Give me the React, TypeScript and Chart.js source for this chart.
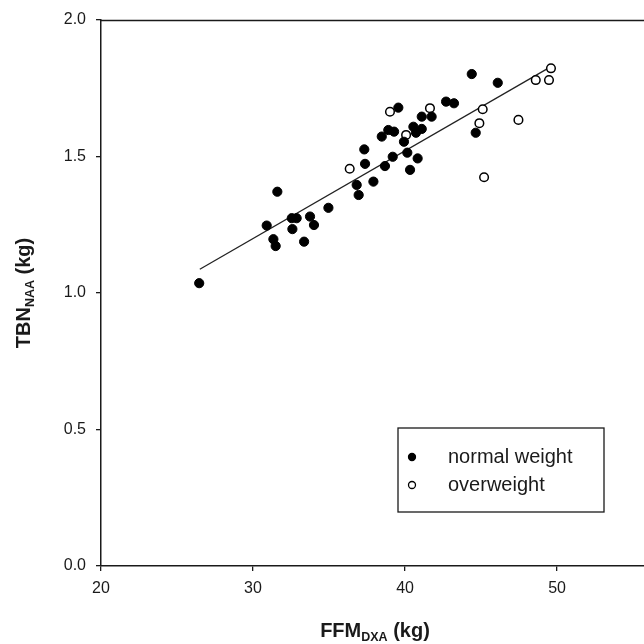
import React, { useEffect, useRef } from "react";
import { Chart, registerables } from "chart.js";

Chart.register(...registerables);

// FFM_DXA (kg) vs TBN_NAA (kg)
const normalX = [26.46, 31.6, 30.9, 31.34, 31.49, 32.55, 32.87, 32.59, 33.75, 34.01, 33.36, 34.96, 36.82, 36.95, 37.32, 37.37, 37.92, 38.68, 38.47, 38.9, 39.28, 39.56, 39.19, 39.93, 40.15, 40.33, 40.55, 40.72, 41.1, 40.83, 41.1, 41.75, 42.7, 43.22, 44.39, 44.65, 46.1];
const normalY = [1.036, 1.371, 1.247, 1.197, 1.172, 1.274, 1.274, 1.234, 1.28, 1.249, 1.188, 1.312, 1.396, 1.359, 1.526, 1.473, 1.408, 1.465, 1.573, 1.597, 1.591, 1.679, 1.499, 1.554, 1.514, 1.451, 1.609, 1.587, 1.601, 1.493, 1.646, 1.646, 1.701, 1.695, 1.802, 1.587, 1.77];
const overX = [36.36, 39.01, 40.07, 41.64, 45.11, 44.89, 45.2, 47.46, 48.6, 49.47, 49.6];
const overY = [1.455, 1.664, 1.579, 1.677, 1.673, 1.622, 1.424, 1.634, 1.78, 1.78, 1.823];
const fitX = [26.5, 49.6];
const fitY = [1.087, 1.829];

const seriesLabels = ["normal weight", "overweight"];
const xTicks = [20, 30, 40, 50];
const yTicks = [0, 0.5, 1.0, 1.5, 2.0];

const FONT = "'Liberation Sans', Arial, Helvetica, sans-serif";
const INK = "#1a1a1a";

type Seg = { t: string; sub?: boolean };

function drawRich(ctx: CanvasRenderingContext2D, segs: Seg[], size: number, subSize: number) {
  const widths = segs.map((s) => {
    ctx.font = `bold ${s.sub ? subSize : size}px ${FONT}`;
    return ctx.measureText(s.t).width;
  });
  const total = widths.reduce((a, b) => a + b, 0);
  let x = -total / 2;
  segs.forEach((s, i) => {
    ctx.font = `bold ${s.sub ? subSize : size}px ${FONT}`;
    ctx.fillText(s.t, x, s.sub ? 4 : 0);
    x += widths[i];
  });
}

const decorPlugin = {
  id: "decor",
  afterDraw(chart: any) {
    const { ctx, chartArea } = chart;
    ctx.save();
    // top frame line
    ctx.strokeStyle = INK;
    ctx.lineWidth = 1.5;
    ctx.beginPath();
    ctx.moveTo(chartArea.left, chartArea.top + 0.5);
    ctx.lineTo(chartArea.right, chartArea.top + 0.5);
    ctx.stroke();

    // axis titles
    ctx.fillStyle = INK;
    ctx.textBaseline = "alphabetic";
    ctx.textAlign = "left";
    ctx.save();
    ctx.translate(375, 637);
    drawRich(ctx, [{ t: "FFM" }, { t: "DXA", sub: true }, { t: " (kg)" }], 20, 12.5);
    ctx.restore();

    ctx.save();
    ctx.translate(30, 293);
    ctx.rotate(-Math.PI / 2);
    drawRich(ctx, [{ t: "TBN" }, { t: "NAA", sub: true }, { t: " (kg)" }], 20, 12.5);
    ctx.restore();

    // legend box
    const bx = 398, by = 428, bw = 206, bh = 84;
    ctx.strokeStyle = INK;
    ctx.lineWidth = 1.3;
    ctx.strokeRect(bx, by, bw, bh);
    const rows = [
      { y: by + 29, fill: "#000" },
      { y: by + 57, fill: "#fff" },
    ];
    rows.forEach((r, i) => {
      ctx.beginPath();
      ctx.arc(bx + 14, r.y, 3.5, 0, Math.PI * 2);
      ctx.fillStyle = r.fill;
      ctx.fill();
      ctx.strokeStyle = "#000";
      ctx.lineWidth = 1.3;
      ctx.stroke();
      ctx.fillStyle = INK;
      ctx.font = `20px ${FONT}`;
      ctx.textBaseline = "middle";
      ctx.fillText(seriesLabels[i], bx + 50, r.y);
    });
    ctx.restore();
  },
};

export default function App() {
  const ref = useRef<HTMLCanvasElement | null>(null);

  useEffect(() => {
    if (!ref.current) return;
    const toPts = (xs: number[], ys: number[]) => xs.map((x, i) => ({ x, y: ys[i] }));
    const chart = new Chart(ref.current, {
      type: "scatter",
      data: {
        datasets: [
          {
            label: seriesLabels[0],
            data: toPts(normalX, normalY),
            backgroundColor: "#000",
            borderColor: "#000",
            borderWidth: 1,
            pointRadius: 4.6,
          },
          {
            label: seriesLabels[1],
            data: toPts(overX, overY),
            backgroundColor: "#fff",
            borderColor: "#000",
            borderWidth: 1.5,
            pointRadius: 4.3,
          },
          {
            label: "fit",
            data: toPts(fitX, fitY),
            showLine: true,
            borderColor: "#222",
            borderWidth: 1.3,
            pointRadius: 0,
            fill: false,
          } as any,
        ],
      },
      options: {
        responsive: false,
        animation: false,
        layout: { autoPadding: false, padding: { top: 20, right: 0, left: 0, bottom: 0 } },
        plugins: { legend: { display: false }, tooltip: { enabled: false } },
        scales: {
          x: {
            type: "linear",
            min: 20,
            max: 55.72,
            afterBuildTicks: (s: any) => {
              s.ticks = xTicks.map((v) => ({ value: v }));
            },
            afterFit: (s: any) => {
              s.height = 78;
              s.paddingLeft = 0;
              s.paddingRight = 0;
            },
            ticks: {
              color: INK,
              font: { family: FONT, size: 16 },
              padding: 8,
              maxRotation: 0,
              callback: (v: any) => String(v),
            },
            grid: {
              display: true,
              drawOnChartArea: false,
              drawTicks: true,
              tickLength: 5,
              color: INK,
              lineWidth: 1.3,
            },
            border: { display: true, color: INK, width: 1.5 },
          },
          y: {
            type: "linear",
            min: 0,
            max: 2,
            afterBuildTicks: (s: any) => {
              s.ticks = yTicks.map((v) => ({ value: v }));
            },
            afterFit: (s: any) => {
              s.width = 101;
              s.paddingTop = 0;
              s.paddingBottom = 0;
            },
            ticks: {
              color: INK,
              font: { family: FONT, size: 16 },
              padding: 10,
              callback: (v: any) => Number(v).toFixed(1),
            },
            grid: {
              display: true,
              drawOnChartArea: false,
              drawTicks: true,
              tickLength: 5,
              color: INK,
              lineWidth: 1.3,
            },
            border: { display: true, color: INK, width: 1.5 },
          },
        },
      },
      plugins: [decorPlugin],
    });
    return () => chart.destroy();
  }, []);

  return (
    <div style={{ position: "absolute", left: 0, top: 0, width: 644, height: 644, background: "#fff" }}>
      <canvas ref={ref} width={644} height={644} style={{ display: "block" }} />
    </div>
  );
}
